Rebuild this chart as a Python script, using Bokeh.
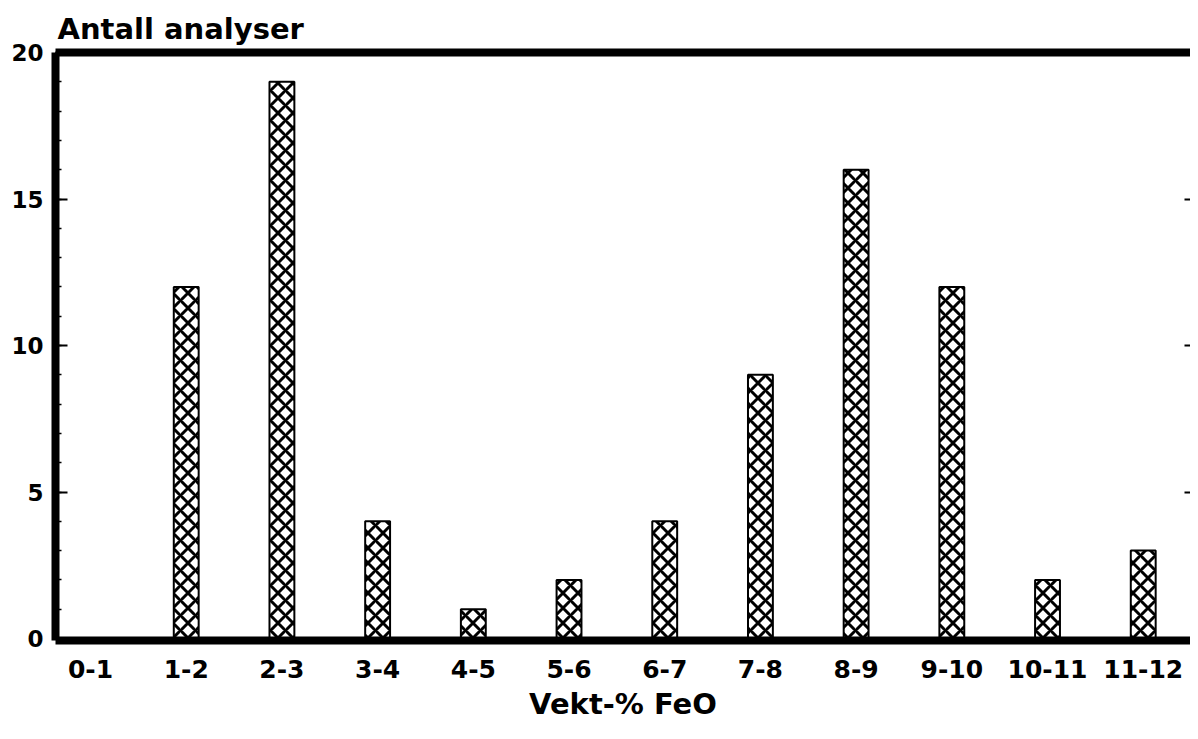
from bokeh.plotting import figure
from bokeh.models import Range1d, LinearAxis, FixedTicker, SingleIntervalTicker, Title
from bokeh.embed import file_html
from bokeh.resources import INLINE

categories = ["0-1", "1-2", "2-3", "3-4", "4-5", "5-6", "6-7", "7-8", "8-9", "9-10", "10-11", "11-12"]
counts = [0, 12, 19, 4, 1, 2, 4, 9, 16, 12, 2, 3]
y_ticks = [0, 5, 10, 15, 20]

FONT = "DejaVu Sans"
idx = list(range(len(categories)))

p = figure(width=1190, height=723, output_backend="svg", toolbar_location=None,
           x_range=Range1d(-0.366, 11.494), y_range=Range1d(-0.068, 20.0),
           min_border_left=55, min_border_right=0, min_border_top=52, min_border_bottom=82,
           x_axis_location="below", y_axis_location="left")
p.outline_line_color = None
p.xgrid.visible = False
p.ygrid.visible = False
p.background_fill_color = "white"
p.border_fill_color = "white"

xa = p.below[0]
ya = p.left[0]

# top border line (added first so it sits next to the frame)
top_axis = LinearAxis(ticker=FixedTicker(ticks=[]), axis_line_width=8, axis_line_color="black",
                      major_tick_line_color=None, minor_tick_line_color=None,
                      major_label_standoff=0, major_label_text_font_size="0px")
p.add_layout(top_axis, "above")

t = Title(text="Antall analyser", align="left", text_font=FONT, text_font_size="29px",
          text_font_style="bold", text_color="black", standoff=13, offset=2)
p.add_layout(t, "above")

p.vbar(x=idx, top=counts, width=0.26, bottom=0,
       fill_color="white", line_color="black", line_width=2,
       hatch_pattern="diagonal_cross", hatch_color="black", hatch_weight=3, hatch_scale=15)

# x axis
xa.ticker = FixedTicker(ticks=idx)
xa.major_label_overrides = {i: c for i, c in zip(idx, categories)}
xa.axis_line_width = 8
xa.axis_line_color = "black"
xa.major_tick_line_color = None
xa.minor_tick_line_color = None
xa.major_label_standoff = 13
xa.major_label_text_font = FONT
xa.major_label_text_font_style = "bold"
xa.major_label_text_font_size = "25px"
xa.major_label_text_color = "black"
xa.axis_label = "Vekt-% FeO"
xa.axis_label_text_font = FONT
xa.axis_label_text_font_style = "bold"
xa.axis_label_text_font_size = "29px"
xa.axis_label_text_color = "black"
xa.axis_label_standoff = 6

# y axis
ya.ticker = SingleIntervalTicker(interval=5, num_minor_ticks=5)
ya.axis_line_width = 8
ya.axis_line_color = "black"
ya.major_tick_in = 12
ya.major_tick_out = 0
ya.major_tick_line_width = 2
ya.minor_tick_in = 6
ya.minor_tick_out = 0
ya.minor_tick_line_width = 1.5
ya.major_label_standoff = 12
ya.major_label_text_font = FONT
ya.major_label_text_font_style = "bold"
ya.major_label_text_font_size = "23px"
ya.major_label_text_color = "black"

# right-side inward ticks (no line, no labels)
right_axis = LinearAxis(ticker=FixedTicker(ticks=y_ticks), axis_line_color=None,
                        major_tick_in=6, major_tick_out=0, major_tick_line_width=2,
                        minor_tick_line_color=None, major_label_standoff=0,
                        major_label_overrides={v: "" for v in y_ticks})
p.add_layout(right_axis, "right")

open("out.html", "w").write(file_html(p, INLINE))
